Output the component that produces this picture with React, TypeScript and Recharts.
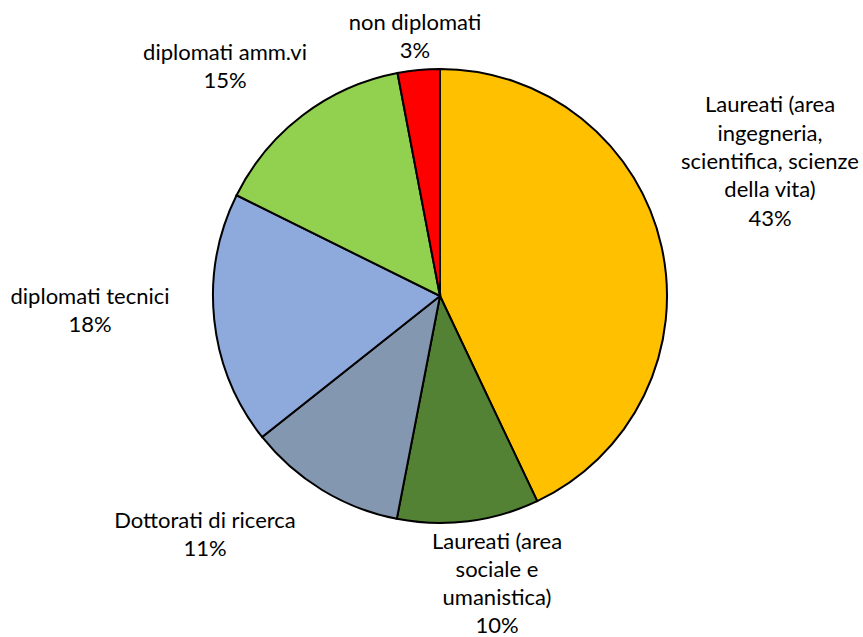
import { PieChart, Pie, Cell } from 'recharts'

const categories = [
  'Laureati (area ingegneria, scientifica, scienze della vita)',
  'Laureati (area sociale e umanistica)',
  'Dottorati di ricerca',
  'diplomati tecnici',
  'diplomati amm.vi',
  'non diplomati',
]
const values = [43, 10.1, 11.3, 18, 14.7, 3]
// how each label is broken into lines, as in the original
const labelLines = [
  ['Laureati (area', 'ingegneria,', 'scientifica, scienze', 'della vita)'],
  ['Laureati (area', 'sociale e', 'umanistica)'],
  ['Dottorati di ricerca'],
  ['diplomati tecnici'],
  ['diplomati amm.vi'],
  ['non diplomati'],
]
const colors = ['#FFC000', '#548235', '#8497B0', '#8EA9DB', '#92D050', '#FF0000']

const data = categories.map((name, i) => ({ name, value: values[i] }))

// label block centres, offset from the pie centre
const labelOffsets = [
  [330, -136],
  [57, 286],
  [-235, 237],
  [-350, 13],
  [-215, -231],
  [-25, -261],
]
const LINE_H = 28.3

const renderLabel = (props: any) => {
  const { cx, cy, index, percent } = props
  const lines = [...labelLines[index], `${Math.round(percent * 100)}%`]
  const [dx, dy] = labelOffsets[index]
  const x = cx + dx
  const top = cy + dy - ((lines.length - 1) * LINE_H) / 2
  return (
    <text x={x} y={top} textAnchor="middle" dominantBaseline="central" fill="#000" fontSize={22} fontFamily="Lato, 'Open Sans', sans-serif">
      {lines.map((l, k) => (
        <tspan key={k} x={x} y={top + k * LINE_H}>{l}</tspan>
      ))}
    </text>
  )
}

export default function App() {
  return (
    <div style={{ position: 'absolute', left: 0, top: 0, width: 863, height: 637, background: '#fff' }}>
      <PieChart width={863} height={637}>
        <Pie
          data={data}
          dataKey="value"
          nameKey="name"
          cx={435}
          cy={291}
          outerRadius={227}
          startAngle={90}
          endAngle={-270}
          stroke="#000"
          strokeWidth={2}
          label={renderLabel}
          labelLine={false}
          isAnimationActive={false}
        >
          {data.map((d, i) => (
            <Cell key={d.name} fill={colors[i]} />
          ))}
        </Pie>
      </PieChart>
    </div>
  )
}
